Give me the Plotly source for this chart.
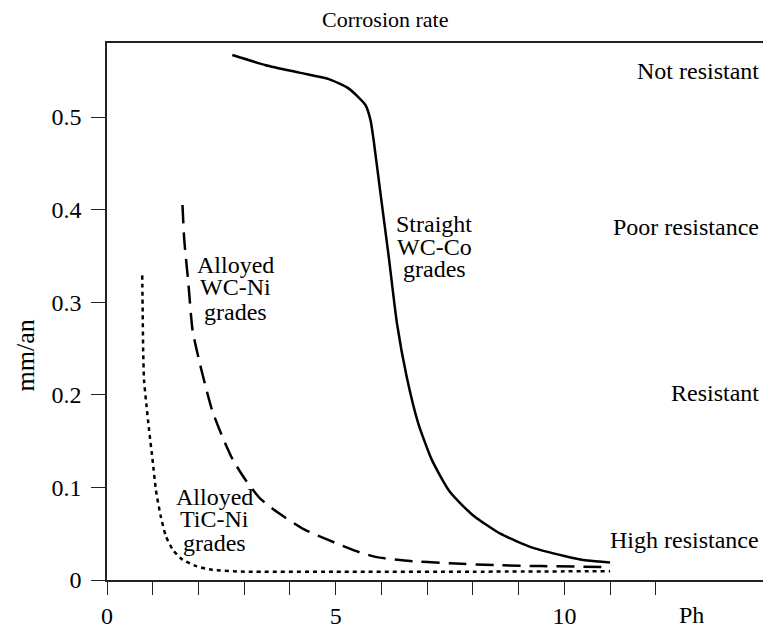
import plotly.graph_objects as go

# ---- data ----
ph_wcco = [2.74, 3.47, 4.2, 4.85, 5.28, 5.65, 5.76, 5.83, 5.97, 6.16, 6.34, 6.55, 6.8, 7.1, 7.5, 8.0, 8.6, 9.3, 10.0, 10.5, 11.0]
rate_wcco = [0.567, 0.556, 0.548, 0.541, 0.531, 0.513, 0.497, 0.475, 0.421, 0.349, 0.277, 0.22, 0.17, 0.13, 0.095, 0.07, 0.05, 0.035, 0.026, 0.021, 0.019]

ph_wcni = [1.65, 1.69, 1.78, 1.87, 2.0, 2.14, 2.3, 2.52, 2.75, 3.03, 3.35, 3.76, 4.3, 4.85, 5.4, 5.87, 6.5, 7.5, 8.5, 9.5, 11.0]
rate_wcni = [0.405, 0.367, 0.32, 0.27, 0.24, 0.212, 0.183, 0.155, 0.13, 0.108, 0.088, 0.072, 0.055, 0.043, 0.032, 0.025, 0.021, 0.018, 0.016, 0.015, 0.014]

ph_ticni = [0.77, 0.78, 0.79, 0.81, 0.86, 0.92, 1.0, 1.07, 1.17, 1.29, 1.45, 1.65, 1.95, 2.3, 3.0, 5.0, 8.0, 11.0]
rate_ticni = [0.329, 0.29, 0.25, 0.216, 0.19, 0.162, 0.128, 0.097, 0.07, 0.047, 0.032, 0.022, 0.015, 0.011, 0.009, 0.009, 0.009, 0.0095]

x_tick_vals = list(range(0, 13))
x_tick_text = ["0", "", "", "", "", "5", "", "", "", "", "10", "", ""]
y_tick_vals = [0, 0.1, 0.2, 0.3, 0.4, 0.5]
y_tick_text = ["0", "0.1", "0.2", "0.3", "0.4", "0.5"]

zone_labels = ["Not resistant", "Poor resistance", "Resistant", "High resistance"]
zone_y = [0.5497, 0.381, 0.202, 0.0432]

FONT = "Liberation Serif, Times New Roman, serif"

fig = go.Figure()
fig.add_trace(go.Scatter(x=ph_wcco, y=rate_wcco, mode="lines", line=dict(color="black", width=2.5, shape="spline", smoothing=0.6), showlegend=False))
fig.add_trace(go.Scatter(x=ph_wcni, y=rate_wcni, mode="lines", line=dict(color="black", width=2.5, dash="18px,9px", shape="spline", smoothing=0.6), showlegend=False))
fig.add_trace(go.Scatter(x=ph_ticni, y=rate_ticni, mode="lines", line=dict(color="black", width=2.5, dash="4px,4px", shape="spline", smoothing=0.6), showlegend=False))

ann = []
for t, yy in zip(zone_labels, zone_y):
    ann.append(dict(x=14.3, y=yy, xref="x", yref="y", text=t, showarrow=False, xanchor="right", yanchor="middle", font=dict(size=24, family=FONT, color="black")))

curve_labels = [
    (7.16, [0.3845, 0.3596, 0.3359], ["Straight", "WC-Co", "grades"]),
    (2.82, [0.340, 0.316, 0.290], ["Alloyed", "WC-Ni", "grades"]),
    (2.36, [0.090, 0.066, 0.0405], ["Alloyed", "TiC-Ni", "grades"]),
]
for cx, ys, texts in curve_labels:
    for yy, t in zip(ys, texts):
        ann.append(dict(x=cx, y=yy, xref="x", yref="y", text=t, showarrow=False, xanchor="center", yanchor="middle", font=dict(size=24, family=FONT, color="black")))

ann.append(dict(x=0.4215, y=1.044, xref="paper", yref="paper", text="Corrosion rate", showarrow=False, xanchor="center", yanchor="middle", font=dict(size=22, family=FONT, color="black")))
ann.append(dict(x=-0.122, y=0.419, xref="paper", yref="paper", text="mm/an", textangle=-90, showarrow=False, xanchor="center", yanchor="middle", font=dict(size=26, family=FONT, color="black")))
ann.append(dict(x=12.78, y=-0.066, xref="x", yref="paper", text="Ph", showarrow=False, xanchor="center", yanchor="middle", font=dict(size=24, family=FONT, color="black")))

# the page body adds an 8px offset, so the figure is 8px smaller with 8px less left/top margin
fig.update_layout(
    width=763, height=623,
    margin=dict(l=99, r=2, t=35, b=51),
    plot_bgcolor="white", paper_bgcolor="white",
    annotations=ann,
    xaxis=dict(range=[0, 14.43], tickvals=x_tick_vals, ticktext=x_tick_text, ticks="outside", ticklen=13, tickwidth=1.3, tickcolor="#222",
               showline=True, linecolor="#222", linewidth=1.5, mirror=True, showgrid=False, zeroline=False,
               tickfont=dict(size=24, family=FONT, color="black")),
    yaxis=dict(range=[0, 0.58], tickvals=y_tick_vals, ticktext=y_tick_text, ticks="outside", ticklen=14, tickwidth=1.3, tickcolor="#222",
               showline=True, linecolor="#222", linewidth=1.5, mirror=True, showgrid=False, zeroline=False,
               ticklabelstandoff=5,
               tickfont=dict(size=24, family=FONT, color="black")),
)

fig.write_html("out.html")
